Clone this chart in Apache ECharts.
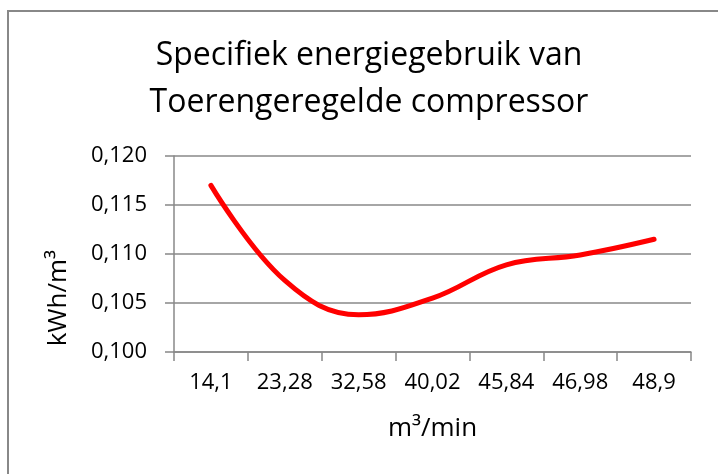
<!DOCTYPE html>
<html>
<head>
<meta charset="utf-8">
<script src="https://cdn.jsdelivr.net/npm/echarts@6/dist/echarts.min.js"></script>
<style>
  html, body { margin: 0; padding: 0; background: #fff; }
  #chart { width: 718px; height: 474px; }
</style>
</head>
<body>
<div id="chart"></div>
<script>
// m3/min flow points (category labels as printed)
const flows = ['14,1', '23,28', '32,58', '40,02', '45,84', '46,98', '48,9']
// specific energy use, kWh/m3
const energy = [0.1170, 0.1073, 0.1038, 0.1055, 0.1089, 0.1099, 0.1115]
const yTicks = { min: 0.100, max: 0.120, step: 0.005 }

const font = '"Open Sans", sans-serif'
const gray = '#888888'

const chart = echarts.init(document.getElementById('chart'), null, { renderer: 'canvas' })

const option = {
  animation: false,
  backgroundColor: '#fff',
  title: {
    text: 'Specifiek energiegebruik van\nToerengeregelde compressor',
    left: 369,
    top: 32,
    padding: 0,
    textAlign: 'center',
    textStyle: {
      fontFamily: font,
      fontSize: 32,
      fontWeight: 'normal',
      color: '#000',
      lineHeight: 47
    }
  },
  grid: {
    left: 174,
    right: 27,
    top: 156,
    bottom: 122
  },
  xAxis: {
    type: 'category',
    data: flows,
    boundaryGap: true,
    name: 'm³/min',
    nameLocation: 'middle',
    nameGap: 64,
    nameTextStyle: { fontFamily: font, fontSize: 26, color: '#000' },
    axisLine: { lineStyle: { color: gray, width: 1.5 } },
    axisTick: { show: true, interval: 0, length: 9, lineStyle: { color: gray, width: 1.5 } },
    axisLabel: { fontFamily: font, fontSize: 22, color: '#000', margin: 20, interval: 0 }
  },
  yAxis: {
    type: 'value',
    min: yTicks.min,
    max: yTicks.max,
    interval: yTicks.step,
    name: 'kWh/m³',
    nameLocation: 'middle',
    nameGap: 102,
    nameTextStyle: { fontFamily: font, fontSize: 26, color: '#000', padding: [0, 88, 0, 0] },
    axisLine: { show: true, lineStyle: { color: gray, width: 1.5 } },
    axisTick: { show: true, length: 9, lineStyle: { color: gray, width: 1.5 } },
    axisLabel: {
      fontFamily: font,
      fontSize: 22,
      color: '#000',
      margin: 27,
      formatter: v => v.toFixed(3).replace('.', ',')
    },
    splitLine: { lineStyle: { color: gray, width: 1.5 } }
  },
  series: [{
    type: 'line',
    data: energy,
    smooth: 0.4,
    showSymbol: false,
    lineStyle: { color: '#ff0000', width: 5, cap: 'round' },
    itemStyle: { color: '#ff0000' }
  }],
  graphic: [{
    type: 'rect',
    shape: { x: 8, y: 11, width: 760, height: 520 },
    style: { fill: null, stroke: gray, lineWidth: 2 },
    silent: true
  }]
}

chart.setOption(option)
</script>
</body>
</html>
